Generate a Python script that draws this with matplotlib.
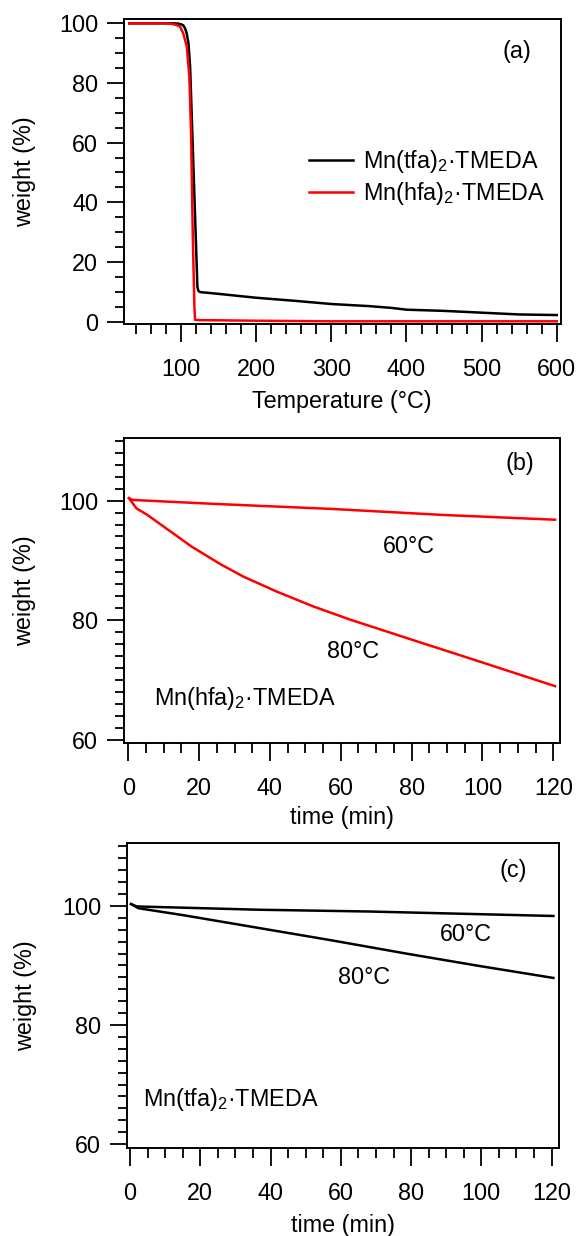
import matplotlib
matplotlib.use("Agg")
import matplotlib.pyplot as plt
from matplotlib.ticker import MultipleLocator

plt.rcParams['font.family'] = ['Liberation Sans', 'DejaVu Sans']
plt.rcParams['mathtext.fontset'] = 'custom'
plt.rcParams['mathtext.rm'] = 'Liberation Sans'
plt.rcParams['mathtext.it'] = 'Liberation Sans:italic'
plt.rcParams['mathtext.default'] = 'rm'

FS = 16.8

# ---------------- data ----------------
# panel (a): TGA ramp
temp_tfa = [31, 60, 90, 96, 100, 103, 105.3, 107.6, 109.8, 112, 115, 118, 120.5, 121.7, 123,
            125.3, 150, 200, 250, 300, 350, 380, 400, 450, 500, 550, 600]
w_tfa = [100, 100, 100, 99.9, 99.7, 99.3, 98.3, 96.5, 93.3, 85.5, 62.7, 39.9, 20.9, 11.7, 10.3,
         9.9, 9.3, 8.0, 7.0, 5.9, 5.2, 4.6, 4.0, 3.6, 3.0, 2.4, 2.2]
temp_hfa = [31, 80, 88, 93, 98.7, 103, 107.6, 111, 113.3, 115.5, 117.7, 118.6, 125, 200, 300, 400, 500, 600]
w_hfa = [100, 100, 99.8, 99.5, 98.9, 96.5, 92.2, 82, 63, 29.6, 5, 0.6, 0.5, 0.3, 0.1, 0.1, 0.1, 0.1]

# panel (b): Mn(hfa)2.TMEDA isothermal
t_b60 = [0.2, 1.25, 26, 57.5, 88.75, 120.5]
w_b60 = [100.4, 100.1, 99.4, 98.6, 97.6, 96.8]
t_b80 = [0.2, 2.3, 5.4, 10.6, 17.9, 26.25, 32.5, 41.9, 52.3, 62.7, 73.1, 83.5, 94, 104.4, 120.5]
w_b80 = [100.4, 98.7, 97.6, 95.4, 92.3, 89.3, 87.3, 84.8, 82.3, 80.1, 78.1, 76.1, 74.1, 72.1, 69.0]

# panel (c): Mn(tfa)2.TMEDA isothermal
t_c60 = [0.3, 1.9, 36.5, 68, 120.5]
w_c60 = [100.3, 99.9, 99.35, 99.05, 98.3]
t_c80 = [0.3, 2.4, 15.5, 36.5, 57.5, 78.5, 99.5, 120.5]
w_c80 = [100.3, 99.6, 98.4, 96.3, 94.2, 92.0, 89.9, 87.9]

lbl_tfa = r"Mn(tfa)$_2$·TMEDA"
lbl_hfa = r"Mn(hfa)$_2$·TMEDA"

W, H = 579, 1236
fig = plt.figure(figsize=(W / 100, H / 100), dpi=100)


def axes_px(l, r, t, b):
    return fig.add_axes([l / W, 1 - b / H, (r - l) / W, (b - t) / H])


def style(ax, xmaj, xmin, ymaj, ymin):
    ax.xaxis.set_major_locator(MultipleLocator(xmaj))
    ax.xaxis.set_minor_locator(MultipleLocator(xmin))
    ax.yaxis.set_major_locator(MultipleLocator(ymaj))
    ax.yaxis.set_minor_locator(MultipleLocator(ymin))
    ax.tick_params(which='both', direction='out', top=False, right=False, width=1.3, colors='black')
    ax.tick_params(axis='x', which='major', length=13, pad=11, labelsize=FS)
    ax.tick_params(axis='x', which='minor', length=7)
    ax.tick_params(axis='y', which='major', length=12.5, pad=6, labelsize=FS)
    ax.tick_params(axis='y', which='minor', length=6.5)
    for s in ax.spines.values():
        s.set_linewidth(1.4)


LW = 1.8

# ---- (a)
ax = axes_px(124, 560.5, 19, 324.3)
ax.plot(temp_tfa, w_tfa, color='black', lw=LW, label=lbl_tfa)
ax.plot(temp_hfa, w_hfa, color='#ff0000', lw=LW, label=lbl_hfa)
ax.set_xlim(24, 605)
ax.set_ylim(-0.9, 101.45)
style(ax, 100, 20, 20, 5)
ax.set_xlabel("Temperature (°C)", fontsize=FS)
ax.set_ylabel("weight (%)", fontsize=FS)
ax.xaxis.set_label_coords(0.5, -0.2535)
ax.xaxis.label.set_va('center')
ax.yaxis.set_label_coords(-0.229, 0.5)
ax.yaxis.label.set_va('center')
ax.text(547, 90.4, "(a)", fontsize=FS, ha='center', va='center')
ax.legend(loc='center left', bbox_to_anchor=(0.4245, 0.480), frameon=False, fontsize=FS,
          handlelength=1.86, handletextpad=0.45, labelspacing=0.2, borderpad=0, borderaxespad=0)

# ---- (b)
ax = axes_px(124, 560, 437.7, 743.3)
ax.plot(t_b60, w_b60, color='#ff0000', lw=LW)
ax.plot(t_b80, w_b80, color='#ff0000', lw=LW)
ax.set_xlim(-1.2, 121.9)
ax.set_ylim(59.45, 110.5)
style(ax, 20, 5, 20, 2)
ax.set_xlabel("time (min)", fontsize=FS)
ax.set_ylabel("weight (%)", fontsize=FS)
ax.xaxis.set_label_coords(0.5, -0.2444)
ax.xaxis.label.set_va('center')
ax.yaxis.set_label_coords(-0.229, 0.5)
ax.yaxis.label.set_va('center')
ax.text(110.6, 106.2, "(b)", fontsize=FS, ha='center', va='center')
ax.text(71.9, 91.3, "60°C", fontsize=FS, ha='left', va='baseline')
ax.text(56.25, 73.7, "80°C", fontsize=FS, ha='left', va='baseline')
ax.text(7.3, 65.8, lbl_hfa, fontsize=FS, ha='left', va='baseline')

# ---- (c)
ax = axes_px(126.7, 559, 843.3, 1148.3)
ax.plot(t_c60, w_c60, color='black', lw=LW)
ax.plot(t_c80, w_c80, color='black', lw=LW)
ax.set_xlim(-0.94, 122.1)
ax.set_ylim(59.3, 110.5)
style(ax, 20, 5, 20, 2)
ax.set_xlabel("time (min)", fontsize=FS)
ax.set_ylabel("weight (%)", fontsize=FS)
ax.xaxis.set_label_coords(0.5, -0.2515)
ax.xaxis.label.set_va('center')
ax.yaxis.set_label_coords(-0.235, 0.5)
ax.yaxis.label.set_va('center')
ax.text(109, 106, "(c)", fontsize=FS, ha='center', va='center')
ax.text(88.2, 94.04, "60°C", fontsize=FS, ha='left', va='baseline')
ax.text(59.1, 86.8, "80°C", fontsize=FS, ha='left', va='baseline')
ax.text(3.8, 66.35, lbl_tfa, fontsize=FS, ha='left', va='baseline')

fig.savefig("out.png", dpi=100)
